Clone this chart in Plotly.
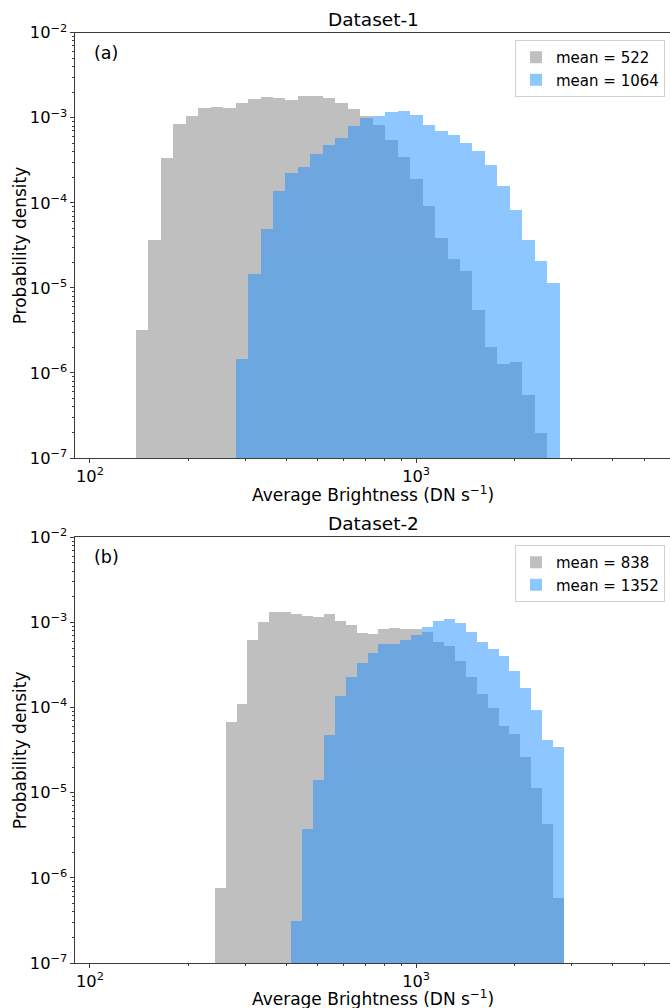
import numpy as np
import plotly.graph_objects as go

# ---------------- data ----------------
# Panel (a): log-spaced bin edges (DN s^-1)
edges_a = [138.3, 151.0, 164.9, 180.0, 196.6, 214.7, 234.5, 256.1, 279.6, 305.3,
           333.4, 364.1, 397.6, 434.2, 474.1, 517.7, 565.3, 617.4, 674.2, 736.2,
           803.9, 877.9, 958.6, 1046.7, 1143.0, 1248.2, 1363.0, 1488.4, 1625.3,
           1774.8, 1938.1, 2116.4, 2311.1, 2523.7, 2755.9]
gray_a_first_bin = 0
gray_a = [3.2e-6, 3.7e-5, 3.35e-4, 8.55e-4, 1.06e-3, 1.32e-3, 1.35e-3, 1.32e-3,
          1.51e-3, 1.68e-3, 1.77e-3, 1.73e-3, 1.64e-3, 1.82e-3, 1.82e-3, 1.73e-3,
          1.51e-3, 1.28e-3, 1.06e-3, 8.3e-4, 5.55e-4, 3.51e-4, 1.93e-4, 9.3e-5,
          3.93e-5, 2.22e-5, 1.61e-5, 5.6e-6, 2.06e-6, 1.27e-6, 1.34e-6, 5.6e-7,
          1.96e-7]
blue_a_first_bin = 8
blue_a = [1.49e-6, 1.45e-5, 5.0e-5, 1.4e-4, 2.28e-4, 2.67e-4, 3.8e-4, 4.85e-4,
          5.86e-4, 8.1e-4, 1.0e-3, 1.06e-3, 1.18e-3, 1.22e-3, 1.09e-3, 8.3e-4,
          7.08e-4, 6.35e-4, 5.12e-4, 4.12e-4, 2.82e-4, 1.6e-4, 8.4e-5, 3.7e-5,
          2.11e-5, 1.16e-5]
labels_a = ["mean = 522", "mean = 1064"]

# Panel (b)
edges_b = [241.3, 260.6, 281.5, 304.0, 328.3, 354.6, 383.0, 413.7, 446.8, 482.6,
           521.3, 563.1, 608.2, 656.9, 709.5, 766.3, 827.7, 894.0, 965.6, 1043.0,
           1126.5, 1216.7, 1314.2, 1419.5, 1533.2, 1656.0, 1788.7, 1932.0, 2086.7,
           2253.8, 2434.4, 2629.4, 2840.0]
gray_b_first_bin = 0
gray_b = [7.6e-7, 6.74e-5, 1.1e-4, 6.18e-4, 1.0e-3, 1.32e-3, 1.32e-3, 1.25e-3,
          1.18e-3, 1.15e-3, 1.25e-3, 1.03e-3, 9.3e-4, 7.46e-4, 7.27e-4, 8.3e-4,
          8.55e-4, 8.3e-4, 8.3e-4, 7.67e-4, 5.86e-4, 5.26e-4, 3.51e-4, 2.28e-4,
          1.44e-4, 9.8e-5, 6.05e-5, 4.88e-5, 2.62e-5, 1.13e-5, 4.28e-6, 5.8e-7]
blue_b_first_bin = 7
blue_b = [3.11e-7, 3.74e-6, 1.41e-5, 4.74e-5, 1.36e-4, 2.28e-4, 3.32e-4, 4.35e-4,
          5.55e-4, 5.55e-4, 6.18e-4, 7.08e-4, 8.8e-4, 1.03e-3, 1.09e-3, 9.8e-4,
          7.67e-4, 5.86e-4, 4.85e-4, 4.0e-4, 2.67e-4, 1.69e-4, 9.3e-5, 4.14e-5,
          3.43e-5]
labels_b = ["mean = 838", "mean = 1352"]

titles = ["Dataset-1", "Dataset-2"]
panel_tags = ["(a)", "(b)"]
x_title = "Average Brightness (DN s<sup>\u22121</sup>)"
y_title = "Probability density"

# ---------------- figure ----------------
W, H = 670, 1008
FONT = "DejaVu Sans"
GRAY = "gray"
BLUE = "dodgerblue"


def bars(edges, first, heights, color, name, xa, ya, legend):
    lo = np.array(edges[first:first + len(heights)])
    hi = np.array(edges[first + 1:first + 1 + len(heights)])
    return go.Bar(x=(lo + hi) / 2, y=heights, width=hi - lo,
                  marker=dict(color=color, line=dict(width=0)), opacity=0.5,
                  name=name, xaxis=xa, yaxis=ya, legend=legend,
                  hoverinfo="skip")


fig = go.Figure()
fig.add_trace(bars(edges_a, gray_a_first_bin, gray_a, GRAY, labels_a[0], "x", "y", "legend"))
fig.add_trace(bars(edges_a, blue_a_first_bin, blue_a, BLUE, labels_a[1], "x", "y", "legend"))
fig.add_trace(bars(edges_b, gray_b_first_bin, gray_b, GRAY, labels_b[0], "x2", "y2", "legend2"))
fig.add_trace(bars(edges_b, blue_b_first_bin, blue_b, BLUE, labels_b[1], "x2", "y2", "legend2"))

x_left, x_right = 75, 670
dom_x = [x_left / W, x_right / W]
tops = [32.7, 537.3]
bots = [458, 963]
dom_ya = [1 - bots[0] / H, 1 - tops[0] / H]
dom_yb = [1 - bots[1] / H, 1 - tops[1] / H]

line_col = "#3c3c3c"
tickfont = dict(family=FONT, size=13, color="black")
xcommon = dict(type="log", range=[np.log10(90), np.log10(6000)], domain=dom_x,
               showline=True, linecolor=line_col, linewidth=1.3, mirror=True,
               ticks="outside", ticklen=4, tickwidth=1, tickcolor=line_col,
               dtick=1, exponentformat="power", showgrid=False, zeroline=False,
               tickfont=tickfont, automargin=False,
               minor=dict(ticks="outside", ticklen=2, tickwidth=1,
                          tickcolor=line_col, dtick="D1", showgrid=False))
ycommon = dict(type="log", range=[-7, -2], showline=True, linecolor=line_col,
               linewidth=1.3, mirror=False, ticks="outside", ticklen=4,
               tickwidth=1, tickcolor=line_col, dtick=1, exponentformat="power",
               showgrid=False, zeroline=False, tickfont=tickfont,
               automargin=False,
               minor=dict(ticks="outside", ticklen=2, tickwidth=1,
                          tickcolor=line_col, dtick="D1", showgrid=False))

legend_common = dict(xanchor="right", yanchor="top", bgcolor="rgba(255,255,255,0.8)",
                     bordercolor="#d0d0d0", borderwidth=1,
                     font=dict(family=FONT, size=15, color="black"),
                     itemsizing="constant", tracegroupgap=0)

fig.update_layout(
    width=W, height=H, margin=dict(l=0, r=0, t=0, b=0, autoexpand=False),
    paper_bgcolor="white", plot_bgcolor="white", barmode="overlay", bargap=0,
    font=dict(family=FONT, color="black"),
    xaxis=dict(**xcommon, anchor="y"),
    yaxis=dict(**ycommon, domain=dom_ya, anchor="x"),
    xaxis2=dict(**xcommon, anchor="y2"),
    yaxis2=dict(**ycommon, domain=dom_yb, anchor="x2"),
    legend=dict(**legend_common, x=665 / W, y=1 - 40 / H),
    legend2=dict(**legend_common, x=665 / W, y=1 - 545 / H),
    showlegend=True,
)

xlabel_y = [494.5, 997.5]
for i, (title, tag) in enumerate(zip(titles, panel_tags)):
    top, bot = tops[i], bots[i]
    fig.add_annotation(text=title, xref="paper", yref="paper",
                       x=(x_left + 671) / 2 / W, y=1 - (top - 1) / H,
                       xanchor="center", yanchor="bottom", showarrow=False,
                       font=dict(family=FONT, size=18.5, color="black"))
    fig.add_annotation(text=tag, xref="paper", yref="paper",
                       x=(x_left + 17) / W, y=1 - (top + 8) / H,
                       xanchor="left", yanchor="top", showarrow=False,
                       font=dict(family=FONT, size=17.5, color="black"))
    fig.add_annotation(text=x_title, xref="paper", yref="paper",
                       x=(x_left + 671) / 2 / W, y=1 - xlabel_y[i] / H,
                       xanchor="center", yanchor="middle", showarrow=False,
                       borderpad=0,
                       font=dict(family=FONT, size=17, color="black"))
    fig.add_annotation(text=y_title, xref="paper", yref="paper",
                       x=20 / W, y=1 - (top + bot) / 2 / H, textangle=-90,
                       xanchor="center", yanchor="middle", showarrow=False,
                       font=dict(family=FONT, size=17, color="black"))

fig.write_html("out.html")
